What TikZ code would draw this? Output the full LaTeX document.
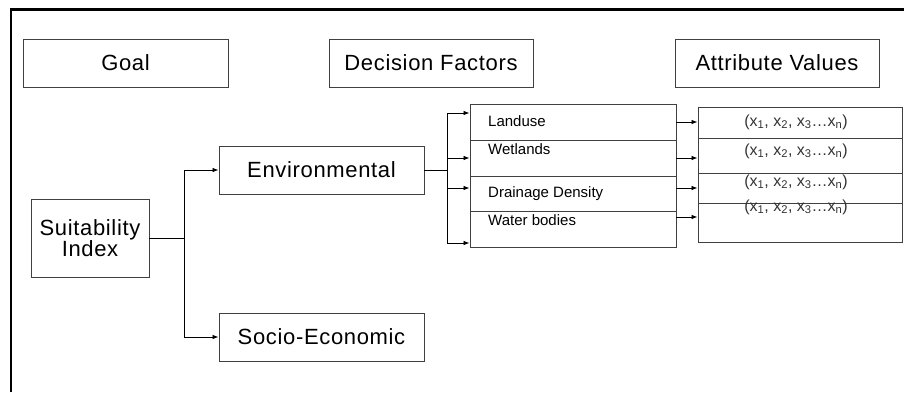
\documentclass[tikz,border=0pt]{standalone}
\usepackage{fontspec}
\setmainfont{Liberation Sans}
\newfontfamily\widefont[LetterSpace=3]{Liberation Sans}
\usetikzlibrary{arrows.meta}

\newcommand{\attvals}{(x\textsubscript{1}, x\textsubscript{2}, x\textsubscript{3}\ldots x\textsubscript{n})}

\begin{document}
\begin{tikzpicture}[x=1pt, y=-1pt,
    box/.style={draw=black!75, line width=0.9pt, inner sep=0pt, align=center,
        font=\widefont\fontsize{22}{21}\selectfont},
    factor/.style={draw=black!75, line width=0.9pt, inner sep=0pt, minimum width=206pt},
    valrow/.style={draw=black!75, line width=0.9pt, inner sep=0pt, minimum width=204pt},
    lab/.style={font=\fontsize{15}{18}\selectfont, anchor=base west, inner sep=0pt},
    vtxt/.style={font=\fontsize{16}{18}\selectfont, text=black!80, inner sep=0pt},
    arr/.style={-{Latex[length=6pt,width=4.5pt]}, line width=0.8pt}]
    \useasboundingbox (0,0) rectangle (904,392);
    \draw [line width=2.5pt] (11,392) -- (11,9.5) -- (904,9.5);

    % headers
    \node [box, minimum width=205pt, minimum height=48pt] (goal) at (125.5,63) {Goal};
    \node [box, minimum width=204pt, minimum height=48pt] (dec) at (431,63) {Decision Factors};
    \node [box, minimum width=204pt, minimum height=48pt] (att) at (777,63) {Attribute Values};

    % goal and factors
    \node [box, minimum width=118pt, minimum height=78pt] (suit) at (90,238) {Suitability\\Index};
    \node [box, minimum width=205pt, minimum height=48pt] (env) at (321.5,170) {Environmental};
    \node [box, minimum width=205pt, minimum height=48pt] (socio) at (321.5,337) {Socio-Economic};

    % sub factors
    \node [factor, minimum height=36pt] (landuse) at (573,122) {};
    \node [factor, minimum height=36pt] (wetlands) at (573,158) {};
    \node [factor, minimum height=35pt] (drainage) at (573,193.5) {};
    \node [factor, minimum height=36pt] (water) at (573,229) {};
    \node [lab] (tlanduse) at (488,126) {Landuse};
    \node [lab] (twetlands) at (488,154.5) {Wetlands};
    \node [lab] (tdrainage) at (488,197.5) {Drainage Density};
    \node [lab] (twater) at (488,225) {Water bodies};

    % attribute values
    \node [valrow, minimum height=31pt] (v1) at (800,122.5) {};
    \node [valrow, minimum height=35pt] (v2) at (800,155.5) {};
    \node [valrow, minimum height=30pt] (v3) at (800,188) {};
    \node [valrow, minimum height=39pt] (v4) at (800,222.5) {};
    \node [vtxt] (tv1) at (796,122) {\attvals};
    \node [vtxt] (tv2) at (796,151) {\attvals};
    \node [vtxt] (tv3) at (796,182) {\attvals};
    \node [vtxt] (tv4) at (796,207) {\attvals};

    % connectors
    \coordinate (split) at (184,238);
    \draw [line width=0.8pt] (suit.east) -- (split);
    \draw [arr] (split) |- (env.west);
    \draw [arr] (split) |- (socio.west);

    \coordinate (fork) at (447,170);
    \draw [line width=0.8pt] (env.east) -- (fork);
    \draw [arr] (fork) |- ([yshift=9pt]landuse.west);
    \draw [arr] (fork) |- (wetlands.west);
    \draw [arr] (fork) |- ([yshift=5.5pt]drainage.west);
    \draw [arr] (fork) |- ([yshift=-14pt]water.west);

    \draw [arr] (landuse.east) -- (landuse.east -| v1.west);
    \draw [arr] (wetlands.east) -- (wetlands.east -| v2.west);
    \draw [arr] ([yshift=5.5pt]drainage.east) -- ([yshift=5.5pt]drainage.east -| v3.west);
    \draw [arr] ([yshift=12pt]water.east) -- ([yshift=12pt]water.east -| v4.west);
\end{tikzpicture}
\end{document}
